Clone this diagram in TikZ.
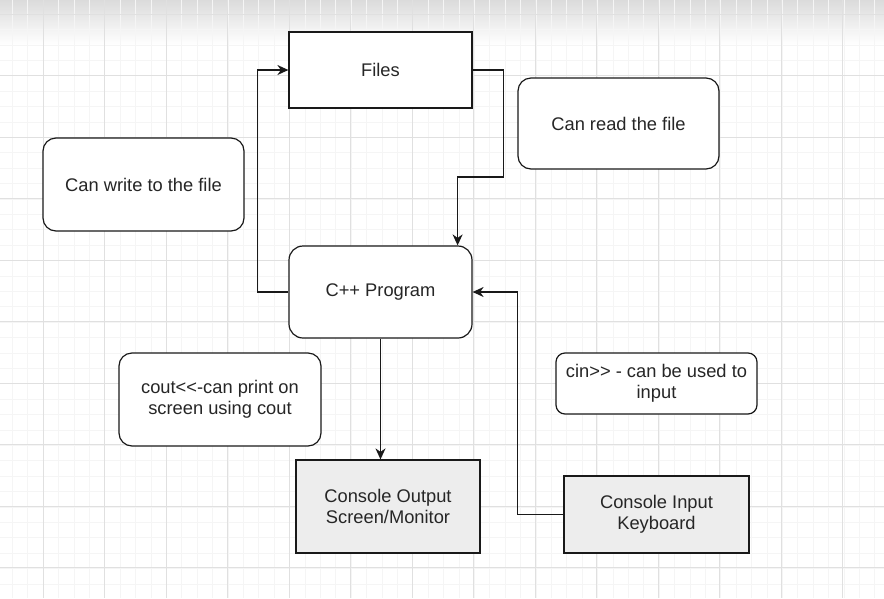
\documentclass[tikz,border=0pt]{standalone}
\usepackage{fontspec}
\setmainfont{Liberation Sans}[Ligatures=TeXOff]
\usepackage{xcolor}
\usepackage{tikz}
\usetikzlibrary{shapes, arrows, arrows.meta, positioning, calc}

\begin{document}
\begin{tikzpicture}[
  x=1pt, y=-1pt,
  box/.style={rectangle, draw=black!90, line width=1.2pt, fill=white,
              font=\fontsize{18.3}{21}\selectfont, align=center, text=black!85,
              inner sep=0pt},
  note/.style={box, rounded corners=13pt},
  dev/.style={box, fill=black!7},
  arr/.style={-{Stealth[length=11pt,width=10pt,inset=3.5pt]}, line width=1.5pt, black!90}
]
  % canvas with grid
  \useasboundingbox (0,0) rectangle (884,598);
  \shade[top color=black!14, bottom color=white] (0,0) rectangle (884,45);
  \foreach \gx in {12.2,27.6,...,884} \draw[black!4, line width=0.6pt] (\gx,0) -- (\gx,598);
  \foreach \gy in {14,29.4,...,598} \draw[black!4, line width=0.6pt] (0,\gy) -- (884,\gy);
  \foreach \gx in {43,104.5,...,884} \draw[black!12, line width=0.8pt] (\gx,0) -- (\gx,598);
  \foreach \gy in {14,75.5,...,598} \draw[black!12, line width=0.8pt] (0,\gy) -- (884,\gy);

  \node[box, minimum width=183pt, minimum height=76pt]  (files) at (380.5,70)  {Files};
  \node[note, minimum width=201pt, minimum height=91pt] (read)  at (618.5,123.5) {Can read the file};
  \node[note, minimum width=201pt, minimum height=93pt] (write) at (143.5,184.5) {Can write to the file};
  \node[note, rounded corners=14pt, minimum width=183pt, minimum height=92pt] (prog) at (380.5,292) {C++ Program};
  \node[note, minimum width=202pt, minimum height=93pt] (cout)  at (220,399.5) {cout<<-can print on\\screen using cout};
  \node[note, rounded corners=9pt, minimum width=201pt, minimum height=61pt] (cin) at (656.5,383.5) {cin>> - can be used to\\input};
  \node[dev, minimum width=184pt, minimum height=93pt]  (out)   at (388,506.5) {Console Output\\Screen/Monitor};
  \node[dev, minimum width=185pt, minimum height=77pt]  (in)    at (656.5,514.5) {Console Input\\Keyboard};

  \draw[arr] (prog.west) -- ++(-31,0) |- (files.west);
  \draw[arr] (files.east) -- ++(31,0) -- ++(0,107) -| ([xshift=-15pt]prog.north east);
  \draw[arr] (prog.south) -- (prog.south |- out.north);
  \draw[arr] (in.west) -- ++(-46,0) |- (prog.east);
\end{tikzpicture}
\end{document}
